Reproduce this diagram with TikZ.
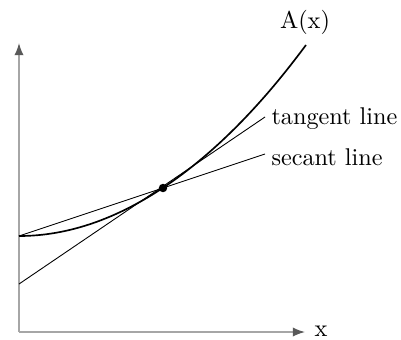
\documentclass[tikz,border=0pt]{standalone}
\usetikzlibrary{arrows.meta}
\tikzset{every picture/.style={line width=0.45pt}}
\tikzset{
  axisline/.style={draw=gray!70,line width=0.7pt,-{Latex[length=5.5pt,width=4.2pt,color=black!65]}},
  thinline/.style={draw=black,line width=0.4pt},
  curveline/.style={draw=black,line width=0.75pt},
  lbl/.style={inner sep=0pt,font=\fontsize{10.9}{13}\selectfont}
}

\begin{document}
\begin{tikzpicture}[x=0.45pt,y=0.45pt,yscale=-1,xscale=1]
			\useasboundingbox (0,0) rectangle (401,339);
			%Coordinates
			\coordinate (O) at (19,332);
			\coordinate (ytop) at (19,43);
			\coordinate (xend) at (305,332);
			\coordinate (c0) at (19,236);
			\coordinate (c1) at (306,45);
			\coordinate (t0) at (19,284);
			\coordinate (t1) at (265,117);
			\coordinate (s1) at (265,154);
			%Axes
			\draw [axisline] (O) -- (ytop);
			\draw [axisline] (O) -- (xend);
			%Curve A(x)
			\draw [curveline] (c0) parabola (c1);
			%Straight Lines: tangent and secant
			\draw [thinline] (t0) -- (t1);
			\draw [thinline] (c0) -- (s1);
			%Shape: Circle
			\node (P) [circle,fill=black,inner sep=0pt,minimum size=3.8pt] at (163,188) {};

			% Text Node
			\node (lA) [lbl] at (305,22) {$\mathrm{A}(\mathrm{x})$};
			% Text Node
			\node (lt) [lbl,anchor=west] at (271,119) {tangent line};
			% Text Node
			\node (ls) [lbl,anchor=west] at (271,157) {secant line};
			% Text Node
			\node (lx) [lbl] at (321,331) {$\mathrm{x}$};
		\end{tikzpicture}
\end{document}
